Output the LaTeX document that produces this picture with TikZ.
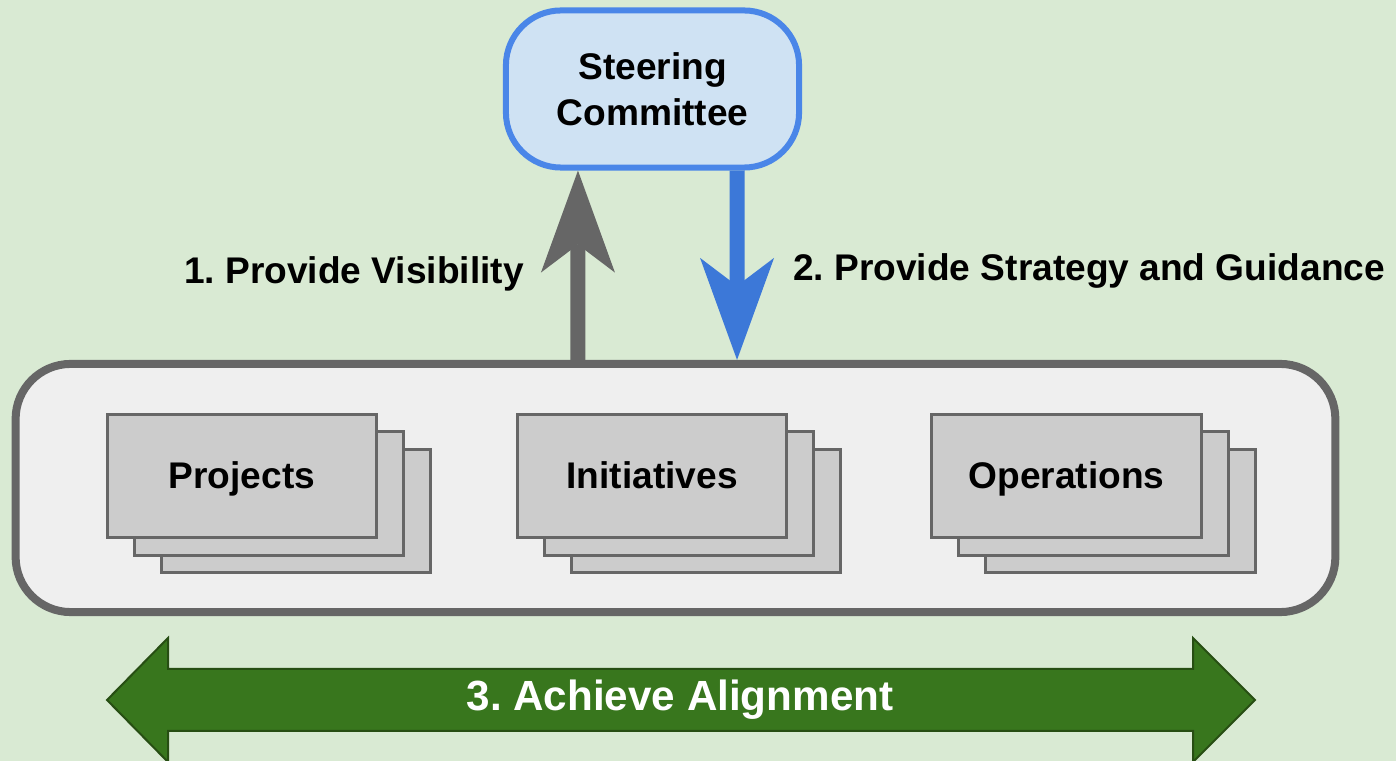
\documentclass[tikz,border=0pt]{standalone}
\usepackage{fontspec}
\setmainfont{Liberation Sans}
\usetikzlibrary{arrows.meta, positioning, shadows}

\definecolor{bggreen}{HTML}{D9EAD3}
\definecolor{steerfill}{HTML}{CFE2F3}
\definecolor{steerline}{HTML}{4A86E8}
\definecolor{guideblue}{HTML}{3C78D8}
\definecolor{linegray}{HTML}{666666}
\definecolor{panelfill}{HTML}{EFEFEF}
\definecolor{cardfill}{HTML}{CCCCCC}
\definecolor{alignfill}{HTML}{38761D}
\definecolor{alignline}{HTML}{274E13}

\begin{document}
\begin{tikzpicture}[
    x=0.01cm, y=-0.01cm,
    lbl/.style={font=\frenchspacing\bfseries\fontsize{10.55pt}{13pt}\selectfont, text=black},
    steer/.style={rectangle, draw=steerline, line width=0.06cm, fill=steerfill, rounded corners=0.55cm, align=center, minimum width=2.93cm, minimum height=1.57cm, lbl},
    panel/.style={rectangle, draw=linegray, line width=0.08cm, fill=panelfill, rounded corners=0.55cm, minimum width=13.19cm, minimum height=2.48cm},
    card/.style={rectangle, draw=linegray, line width=0.03cm, fill=cardfill, minimum width=2.69cm, minimum height=1.23cm, lbl, text height=0.72em, text depth=0pt,
        copy shadow={shadow xshift=0.54cm, shadow yshift=-0.35cm, draw=linegray, fill=cardfill, line width=0.03cm},
        copy shadow={shadow xshift=0.27cm, shadow yshift=-0.175cm, draw=linegray, fill=cardfill, line width=0.03cm}},
    arrow/.style={line width=0.15cm, -{Stealth[length=1.02cm, width=0.74cm, inset=0.28cm, line width=0pt]}},
    bigarrow/.style={fill=alignfill, draw=alignline, line width=0.02cm}
]

% Background
\useasboundingbox (0,0) rectangle (1396,761);
\fill[bggreen] (0,0) rectangle (1396,761);

% Nodes
\node[steer] (steer) at (652.5,89) {Steering \\ Committee};
\node[panel] (team) at (675.5,488) {};
\node[card] (proj) at (242,476) {Projects};
\node[card, right=1.38cm of proj] (init) {Initiatives};
\node[card, right=1.42cm of init] (oper) {Operations};

% Arrows
\draw[arrow, draw=linegray] ([xshift=-0.975cm]team.north) -- node[pos=0.455, left=0.35cm, lbl] {1. Provide Visibility} ([xshift=-0.745cm]steer.south);
\draw[arrow, draw=guideblue] ([xshift=0.845cm]steer.south) -- node[pos=0.53, right=0.37cm, lbl] {2. Provide Strategy and Guidance} ([xshift=0.615cm]team.north);

% Alignment band
\filldraw[bigarrow] (107,700) -- (168,638) -- (168,669) -- (1193,669) -- (1193,638) -- (1255,700)
    -- (1193,762) -- (1193,731) -- (168,731) -- (168,762) -- cycle;
\node[font=\frenchspacing\bfseries\fontsize{12pt}{15pt}\selectfont, text=white] (align) at (680,700) {3. Achieve Alignment};

\end{tikzpicture}
\end{document}
